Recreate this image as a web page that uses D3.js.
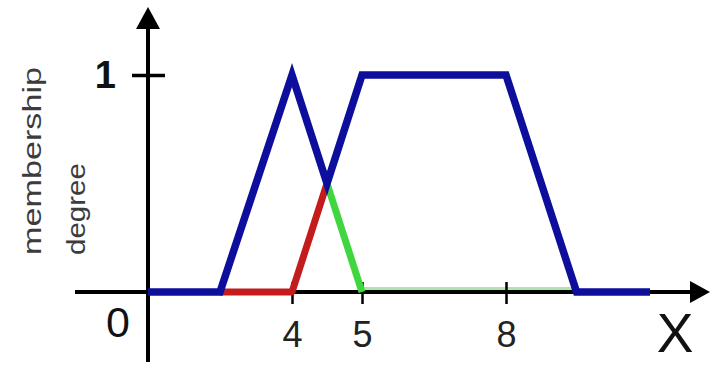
<!DOCTYPE html>
<html>
<head>
<meta charset="utf-8">
<script src="https://d3js.org/d3.v7.min.js"></script>
<style>
  body { margin: 0; background: #ffffff; }
  svg { display: block; }
</style>
</head>
<body>
<svg id="drawing_region"></svg>
<script>
// x values are in "X" units, y values are membership degree
var union_x = [0, 2, 4, 4.5, 5, 8, 9.47, 11];
var union_y = [0, 0, 1, 0.5, 1, 1, 0, 0];

var red_x = [2, 4, 4.5];
var red_y = [0, 0, 0.5];

var green_x = [4.5, 5];
var green_y = [0.5, 0];

var green_base_x = [5, 9.47];
var green_base_y = [0, 0];

var xticks = [4, 5, 8];
var yticks = [1];

// the drawing is not to scale, so the x scale is piecewise
var xdomain = [0, 4, 5, 8];

class FuzzyChart {

    constructor( config ) {
        this.config = {
            parent: config.parent,
            width: config.width || 713,
            height: config.height || 365,
            xrange: config.xrange,
            yrange: config.yrange
        }
        this.init();
    }

    init() {
        let self = this;

        self.svg = d3.select( self.config.parent )
            .attr('width', self.config.width)
            .attr('height', self.config.height);

        self.xscale = d3.scaleLinear()
            .domain( xdomain )
            .range( self.config.xrange );

        self.yscale = d3.scaleLinear()
            .domain( [0, 1] )
            .range( self.config.yrange );

        self.line = d3.line()
            .x( d => self.xscale( d[0] ) )
            .y( d => self.yscale( d[1] ) );
    }

    render() {
        let self = this;
        const x0 = self.xscale(0), y0 = self.yscale(0);

        // pale green part lying along the axis, under it
        self.svg.append('path')
            .attr('d', self.line( d3.zip(green_base_x, green_base_y) ))
            .attr('transform', 'translate(0,-1.5)')
            .attr('fill', 'none')
            .attr('stroke', '#ade6a6')
            .attr('stroke-width', 7);

        // axes
        self.svg.append('line')
            .attr('x1', 75).attr('x2', 695)
            .attr('y1', y0).attr('y2', y0)
            .attr('stroke', '#000').attr('stroke-width', 4);
        self.svg.append('path')
            .attr('d', `M710,${y0} L690,${y0 - 11} L690,${y0 + 11} Z`)
            .attr('fill', '#000');

        self.svg.append('line')
            .attr('x1', x0).attr('x2', x0)
            .attr('y1', 24).attr('y2', 362)
            .attr('stroke', '#000').attr('stroke-width', 4);
        self.svg.append('path')
            .attr('d', `M${x0},7 L${x0 - 12},29 L${x0 + 12},29 Z`)
            .attr('fill', '#000');

        // x ticks
        const xaxis = d3.axisBottom( self.xscale )
            .tickValues( xticks )
            .tickSize( 22 )
            .tickPadding( 17 )
            .tickFormat( d3.format('d') );

        const xg = self.svg.append('g')
            .attr('transform', `translate(0, ${y0 - 10})`)
            .call( xaxis );
        xg.select('.domain').remove();
        xg.selectAll('.tick line')
            .attr('stroke', '#000')
            .attr('stroke-width', 2.5);
        xg.selectAll('.tick text')
            .attr('fill', '#222')
            .attr('font-family', 'Liberation Sans, Arial, sans-serif')
            .attr('font-size', '36px');

        // y ticks
        const yaxis = d3.axisLeft( self.yscale )
            .tickValues( yticks )
            .tickSize( 33 )
            .tickPadding( 16 )
            .tickFormat( d3.format('d') );

        const yg = self.svg.append('g')
            .attr('transform', `translate(${x0 + 17}, 0)`)
            .call( yaxis );
        yg.select('.domain').remove();
        yg.selectAll('.tick line')
            .attr('stroke', '#000')
            .attr('stroke-width', 3.5);
        yg.selectAll('.tick text')
            .attr('fill', '#111')
            .attr('font-family', 'Liberation Sans, Arial, sans-serif')
            .attr('font-weight', 'bold')
            .attr('font-size', '38px');

        // origin label
        self.svg.append('text')
            .attr('x', 118).attr('y', 337)
            .attr('text-anchor', 'middle')
            .attr('fill', '#111')
            .attr('font-family', 'Liberation Sans, Arial, sans-serif')
            .attr('font-size', '43px')
            .text('0');

        // axis titles
        self.svg.append('text')
            .attr('transform', 'translate(41, 255) rotate(-90)')
            .attr('fill', '#3c3c3c')
            .attr('font-family', 'Liberation Sans, Arial, sans-serif')
            .attr('font-size', '25px')
            .attr('textLength', 188)
            .attr('lengthAdjust', 'spacingAndGlyphs')
            .text('membership');

        self.svg.append('text')
            .attr('transform', 'translate(85, 255) rotate(-90)')
            .attr('fill', '#3c3c3c')
            .attr('font-family', 'Liberation Sans, Arial, sans-serif')
            .attr('font-size', '25px')
            .attr('textLength', 92)
            .attr('lengthAdjust', 'spacingAndGlyphs')
            .text('degree');

        self.svg.append('text')
            .attr('x', 675).attr('y', 352)
            .attr('text-anchor', 'middle')
            .attr('fill', '#111')
            .attr('font-family', 'Liberation Sans, Arial, sans-serif')
            .attr('font-size', '55px')
            .text('X');

        // membership functions
        self.svg.append('path')
            .attr('d', self.line( d3.zip(red_x, red_y) ))
            .attr('fill', 'none')
            .attr('stroke', '#c41c1c')
            .attr('stroke-width', 7)
            .attr('stroke-linejoin', 'round');

        self.svg.append('path')
            .attr('d', self.line( d3.zip(green_x, green_y) ))
            .attr('fill', 'none')
            .attr('stroke', '#3fd63f')
            .attr('stroke-width', 7)
            .attr('stroke-linejoin', 'round');

        self.svg.append('path')
            .attr('d', self.line( d3.zip(union_x, union_y) ))
            .attr('fill', 'none')
            .attr('stroke', '#0e0e9c')
            .attr('stroke-width', 7.5)
            .attr('stroke-linejoin', 'miter');
    }
}

var config = {
    parent: '#drawing_region',
    width: 713,
    height: 365,
    xrange: [148, 292, 362, 506],
    yrange: [292, 75]
};

const chart = new FuzzyChart( config );
chart.render();
</script>
</body>
</html>
